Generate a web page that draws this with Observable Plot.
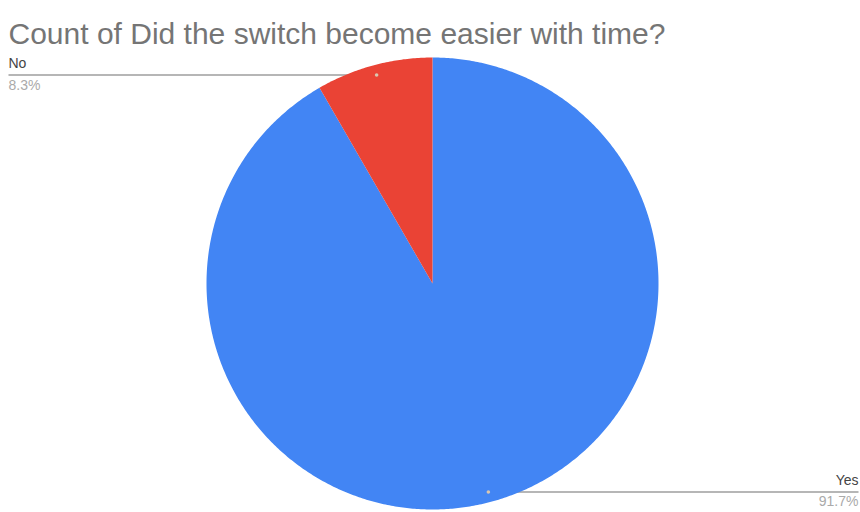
<!DOCTYPE html>
<html>
<head>
<meta charset="utf-8">
<script src="https://cdn.jsdelivr.net/npm/d3@7"></script>
<script src="https://cdn.jsdelivr.net/npm/@observablehq/plot@0.6"></script>
<style>
  html, body { margin: 0; padding: 0; background: #fff; }
  #chart svg { display: block; }
</style>
</head>
<body>
<div id="chart"></div>
<script>
// ---- data ----
const categories = ["Yes", "No"];
const counts = [11, 1];
const percentLabels = ["91.7%", "8.3%"];
const colors = ["#4285F4", "#EA4335"];
const title = "Count of Did the switch become easier with time?";

// ---- layout ----
const W = 860, H = 512;
const CX = 432, CY = 283, R = 226;
const ux = px => (px - CX) / R;   // pixel -> unit circle coords
const total = d3.sum(counts);

// slices (clockwise from 12 o'clock)
const slicePts = [];
const labels = [];
let acc = 0;
categories.forEach((c, i) => {
  const a0 = acc / total * 2 * Math.PI;
  acc += counts[i];
  const a1 = acc / total * 2 * Math.PI;
  slicePts.push({cat: c, x: 0, y: 0});
  const n = Math.max(4, Math.ceil((a1 - a0) / (Math.PI / 360)));
  for (let k = 0; k <= n; k++) {
    const a = a0 + (a1 - a0) * k / n;
    slicePts.push({cat: c, x: Math.sin(a), y: Math.cos(a)});
  }
  const am = (a0 + a1) / 2;
  const right = Math.sin(am) >= 0;
  labels.push({
    cat: c, pct: percentLabels[i],
    x: 0.955 * Math.sin(am), y: 0.955 * Math.cos(am),
    xe: right ? ux(858) : ux(8),
    right
  });
});
const rightLabels = labels.filter(d => d.right);
const leftLabels = labels.filter(d => !d.right);

const font = "'Liberation Sans', Arial, sans-serif";
const chart = Plot.plot({
  width: W, height: H,
  margin: 0,
  style: {fontFamily: font, background: "#fff"},
  x: {domain: [ux(0), ux(W)], range: [0, W], axis: null},
  y: {domain: [(CY - H) / R, CY / R], range: [H, 0], axis: null},
  color: {domain: categories, range: colors},
  marks: [
    Plot.link(labels, {x1: "x", y1: "y", x2: "xe", y2: "y", stroke: "#9e9e9e", strokeWidth: 1.3}),
    Plot.line(slicePts, {x: "x", y: "y", z: "cat", fill: "cat", stroke: "none", curve: "linear"}),
    Plot.dot(labels, {x: "x", y: "y", r: 1.8, fill: "#d9c6b0", stroke: "none"}),
    Plot.text(leftLabels, {x: "xe", y: "y", text: "cat", textAnchor: "start", dy: -11.5, fontSize: 14, fill: "#444"}),
    Plot.text(leftLabels, {x: "xe", y: "y", text: "pct", textAnchor: "start", dy: 10, fontSize: 14, fill: "#aaa"}),
    Plot.text(rightLabels, {x: "xe", y: "y", text: "cat", textAnchor: "end", dy: -11.5, fontSize: 14, fill: "#444"}),
    Plot.text(rightLabels, {x: "xe", y: "y", text: "pct", textAnchor: "end", dy: 10, fontSize: 14, fill: "#aaa"}),
    Plot.text([title], {frameAnchor: "top-left", dx: 8, dy: 22, text: d => d, fontSize: 30, fill: "#757575", textAnchor: "start"})
  ]
});
document.getElementById("chart").appendChild(chart);
</script>
</body>
</html>
